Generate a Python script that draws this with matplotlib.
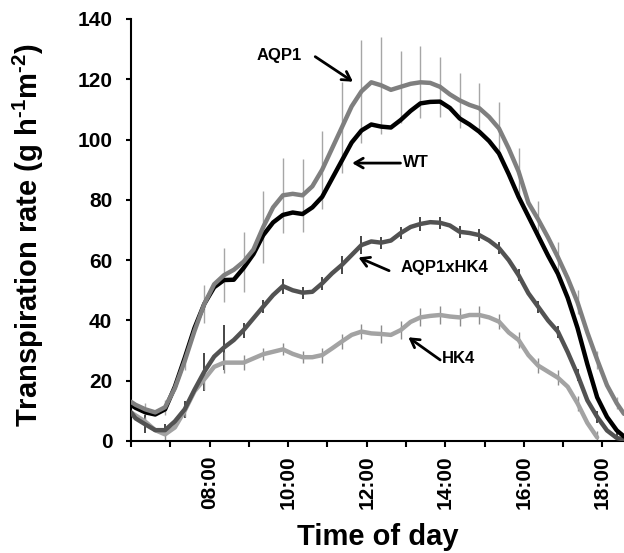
import matplotlib
matplotlib.use("Agg")
import matplotlib.pyplot as plt
import numpy as np

plt.rcParams['font.family'] = ['Liberation Sans', 'DejaVu Sans']
plt.rcParams['font.weight'] = 'bold'
plt.rcParams['mathtext.fontset'] = 'custom'
plt.rcParams['mathtext.rm'] = 'Liberation Sans:bold'
plt.rcParams['mathtext.bf'] = 'Liberation Sans:bold'

# time of measurement (hh:mm)
times = ["06:00", "06:07", "06:22", "06:37", "06:52", "07:07", "07:22", "07:37", "07:52",
         "08:07", "08:22", "08:37", "08:52", "09:07", "09:22", "09:37", "09:52",
         "10:07", "10:22", "10:37", "10:52", "11:07", "11:22", "11:37", "11:52",
         "12:07", "12:22", "12:37", "12:52", "13:07", "13:22", "13:37", "13:52",
         "14:07", "14:22", "14:37", "14:52", "15:07", "15:22", "15:37", "15:52",
         "16:07", "16:22", "16:37", "16:52", "17:07", "17:22", "17:37", "17:52",
         "18:07", "18:22", "18:33"]

aqp1 = [13, 12, 10.5, 9.5, 11.2, 17.5, 26.5, 36.5, 45.5, 52, 55, 56.8, 59.5, 63.5, 71, 77.5, 81.5,
        82, 81.5, 84.5, 90, 97, 104, 111, 116, 119, 118, 116.5, 117.5, 118.5, 119, 118.8, 117.5,
        115, 113, 111.5, 110.4, 107.5, 103.7, 97, 89.4, 79, 73.5, 67.5, 61, 54, 46, 36, 27,
        18.5, 12.5, 9]
wt = [12, 11, 9.5, 8.8, 10.5, 18, 27.5, 37.5, 45.5, 51, 53.4, 53.5, 57.4, 62, 68.3, 72.5, 75,
      75.8, 75.3, 77.5, 81, 87, 93, 99, 103, 105, 104.3, 104, 106.5, 109.5, 112, 112.5, 112.6,
      110.5, 107, 105, 102.6, 99.5, 95.4, 88.5, 81, 74.5, 68, 61.5, 55.5, 47.5, 37.5, 25.5, 14.5,
      8, 3.5, 1.5]
aqp1xhk4 = [9.5, 7.5, 5.5, 3.6, 3.6, 6.5, 10.5, 17, 23, 28, 31, 33.5, 36.8, 40.7, 44.6, 48.4, 51.4,
            50, 49.2, 49.5, 52.3, 55.6, 58.4, 61.7, 65, 66.2, 65.8, 66.5, 69, 71, 72, 72.6, 72.4,
            71.5, 69.4, 69, 68.3, 66.5, 64, 60, 55, 49, 44.5, 40, 36.3, 29.5, 22, 13.5, 8,
            3.5, 1, 0.5]
hk4 = [9.5, 8.5, 6.4, 3.6, 2.2, 4.5, 10, 16.5, 20.5, 24.6, 26, 26, 26, 27.4, 28.8, 29.6, 30.4,
       28.9, 27.8, 27.8, 28.5, 30.7, 33, 35.2, 36.3, 35.7, 35.5, 35.2, 36.8, 39.5, 41, 41.5, 41.8,
       41.3, 41, 41.8, 41.8, 41, 39.6, 36, 33.5, 28.5, 25, 23, 21, 18, 12.5, 6, 1.2,
       np.nan, np.nan, np.nan]

# standard errors, every 30 min (06:22, 06:52, ... 18:22)
aqp1_err = [2, 2.5, 3, 6.3, 9, 10, 12, 12.5, 12, 13, 15, 17, 16, 12, 12, 10, 9, 8.5, 8.6, 7.7,
            6, 5, 4, 3, 2]
aqp1xhk4_err = [3, 2, 2.8, 6.3, 7.4, 2.5, 2.2, 2.5, 2, 2.2, 3, 3, 2, 2, 2.2, 2, 2, 2, 2, 2,
                2, 2, 2, 2, 2]
hk4_err = [1.5, 2, 2, 3.5, 3.6, 2.5, 2, 2, 2, 2.5, 2.5, 2.5, 3, 3, 3, 3, 3, 3, 2.5, 2.5,
           2.5, 2.5, 2.5, 2, np.nan]

tick_hours = [6, 7, 8, 9, 10, 11, 12, 13, 14, 15, 16, 17, 18]
tick_labels = ["", "", "08:00", "", "10:00", "", "12:00", "", "14:00", "", "16:00", "", "18:00"]


def to_hours(t):
    h, m = t.split(":")
    return int(h) + int(m) / 60.0


x = np.array([to_hours(t) for t in times])
xe = x[2::2]

fig = plt.figure(figsize=(6.24, 5.53), dpi=100)
ax = fig.add_axes([131 / 624, 112 / 553, 493 / 624, 422 / 553])

# error bars (drawn under the curves)
for vals, err, col, w in [(aqp1, aqp1_err, '#a6a6a6', 1.0),
                          (aqp1xhk4, aqp1xhk4_err, '#262626', 1.2),
                          (hk4, hk4_err, '#8c8c8c', 1.0)]:
    mid = np.array(vals[2::2], dtype=float)
    ax.vlines(xe, mid - np.array(err), mid + np.array(err), color=col, lw=w, zorder=1)

# curves
ax.plot(x, hk4, color='#a3a3a3', lw=3.2, zorder=2, solid_capstyle='round', solid_joinstyle='round')
ax.plot(x, aqp1xhk4, color='#525252', lw=3.2, zorder=3, solid_capstyle='round', solid_joinstyle='round')
ax.plot(x, wt, color='black', lw=3.2, zorder=4, solid_capstyle='round', solid_joinstyle='round')
ax.plot(x, aqp1, color='#7f7f7f', lw=3.2, zorder=5, solid_capstyle='round', solid_joinstyle='round')

ax.set_xlim(6, 18.55)
ax.set_ylim(0, 140)
ax.set_yticks(np.arange(0, 141, 20))
ax.set_xticks(tick_hours)
ax.set_xticklabels(tick_labels, rotation=90)

for s in ['top', 'right']:
    ax.spines[s].set_visible(False)
for s in ['left', 'bottom']:
    ax.spines[s].set_linewidth(1.5)

ax.tick_params(axis='y', direction='out', length=3.5, width=1.5, pad=10, labelsize=15)
ax.tick_params(axis='x', direction='out', length=4.5, width=1.5, pad=6, labelsize=15)
for lab in ax.get_xticklabels() + ax.get_yticklabels():
    lab.set_fontweight('bold')

# labels of the lines
arrow = dict(arrowstyle='->,head_length=0.6,head_width=0.35', lw=2, color='black',
             shrinkA=0, shrinkB=0)
ax.annotate('', xy=(11.65, 119.2), xytext=(10.69, 127.5), arrowprops=arrow, zorder=6)
ax.text(10.36, 128, 'AQP1', ha='right', va='center', fontsize=12, fontweight='bold')
ax.annotate('', xy=(11.63, 92.2), xytext=(12.86, 92.2), arrowprops=arrow, zorder=6)
ax.text(12.93, 92.4, 'WT', ha='left', va='center', fontsize=12, fontweight='bold')
ax.annotate('', xy=(11.79, 60.9), xytext=(12.57, 56.5), arrowprops=arrow, zorder=6)
ax.text(12.85, 57.4, 'AQP1xHK4', ha='left', va='center', fontsize=12, fontweight='bold')
ax.annotate('', xy=(13.06, 34.4), xytext=(13.87, 26.9), arrowprops=arrow, zorder=6)
ax.text(13.91, 27.4, 'HK4', ha='left', va='center', fontsize=12, fontweight='bold')

fig.text(28 / 624, 1 - 235 / 553, 'Transpiration rate (g h$^{\\mathrm{\u20101}}$m$^{\\mathrm{\u20102}}$)',
         rotation=90, ha='center', va='center', fontsize=21, fontweight='bold')
fig.text(377.5 / 624, 1 - 537 / 553, 'Time of day', ha='center', va='center',
         fontsize=21, fontweight='bold')

fig.savefig('out.png', dpi=100)
